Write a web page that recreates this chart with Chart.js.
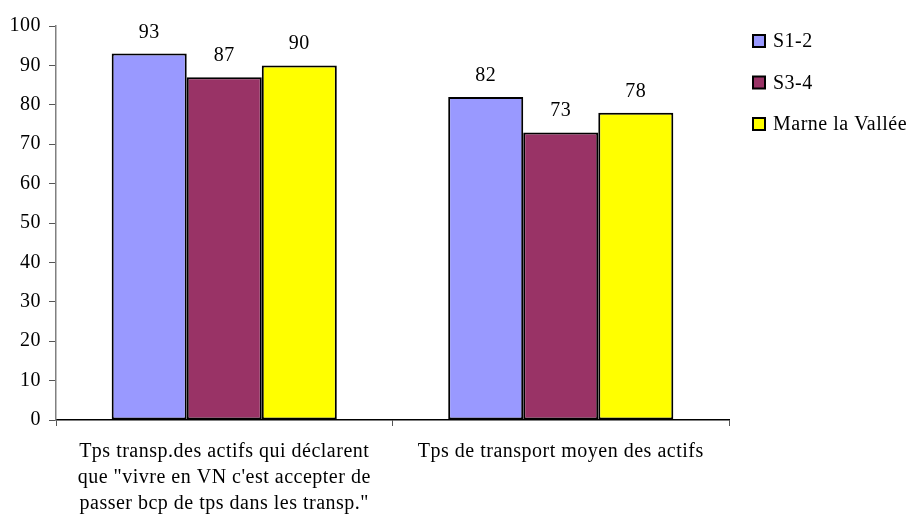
<!DOCTYPE html>
<html>
<head>
<meta charset="utf-8">
<script src="https://cdn.jsdelivr.net/npm/chart.js@4"></script>
<style>
  html, body { margin: 0; padding: 0; background: #fff; }
  #wrap { width: 910px; height: 525px; }
</style>
</head>
<body>
<div id="wrap"><canvas id="chart" width="910" height="525"></canvas></div>
<script>
const categories = [
  ["Tps transp.des actifs qui déclarent", "que \"vivre en VN c'est accepter de", "passer bcp de tps dans les transp.\""],
  "Tps de transport moyen des actifs"
];
const seriesNames = ["S1-2", "S3-4", "Marne la Vallée"];
const s12 = [93, 82];
const s34 = [87, 73];
const marne = [90, 78];
const colors = ["#9999FF", "#993366", "#FFFF00"];

const FONT = "'Liberation Serif', 'Times New Roman', serif";
const SIZE = 20;

// Garamond in the original is a little wider than Times
const spacing = {
  id: "spacing",
  beforeLayout(chart) { chart.ctx.letterSpacing = "0.5px"; },
  beforeDraw(chart) { chart.ctx.letterSpacing = "0.5px"; }
};

// values above each bar
const valueLabels = {
  id: "valueLabels",
  afterDatasetsDraw(chart) {
    const ctx = chart.ctx;
    ctx.save();
    ctx.font = SIZE + "px " + FONT;
    ctx.fillStyle = "#000";
    ctx.textAlign = "center";
    ctx.textBaseline = "alphabetic";
    chart.data.datasets.forEach((ds, i) => {
      chart.getDatasetMeta(i).data.forEach((bar, j) => {
        ctx.fillText(ds.data[j], bar.x, bar.y - 16);
      });
    });
    ctx.restore();
  }
};

// legend on the right, drawn by hand
const sideLegend = {
  id: "sideLegend",
  afterDraw(chart) {
    const ctx = chart.ctx;
    ctx.save();
    ctx.font = SIZE + "px " + FONT;
    ctx.textBaseline = "middle";
    chart.data.datasets.forEach((ds, i) => {
      const y = 41 + i * 41.5;
      ctx.fillStyle = ds.backgroundColor;
      ctx.fillRect(753, y - 6, 12, 12);
      ctx.strokeStyle = "#000";
      ctx.lineWidth = 2;
      ctx.strokeRect(753, y - 6, 12, 12);
      ctx.fillStyle = "#000";
      ctx.fillText(ds.label, 773, y + 1);
    });
    ctx.restore();
  }
};

new Chart(document.getElementById("chart"), {
  type: "bar",
  data: {
    labels: categories,
    datasets: [
      { label: seriesNames[0], data: s12, backgroundColor: colors[0] },
      { label: seriesNames[1], data: s34, backgroundColor: colors[1] },
      { label: seriesNames[2], data: marne, backgroundColor: colors[2] }
    ].map(d => Object.assign(d, { borderColor: "#000", borderWidth: 2, borderSkipped: false }))
  },
  options: {
    responsive: false,
    animation: false,
    devicePixelRatio: 1,
    layout: { padding: { left: 0, right: 181, top: 26, bottom: 0 } },
    datasets: { bar: { categoryPercentage: 0.669, barPercentage: 1 } },
    plugins: { legend: { display: false }, tooltip: { enabled: false } },
    scales: {
      x: {
        grid: { display: true, drawOnChartArea: false, drawTicks: true, tickLength: 6, tickColor: "#555", offset: true },
        border: { color: "#000", width: 1.5 },
        ticks: { color: "#000", font: { family: FONT, size: SIZE, lineHeight: 1.3 }, padding: 13, maxRotation: 0, autoSkip: false },
        afterFit(scale) { scale.height = 105; }
      },
      y: {
        min: 0, max: 100,
        grid: { display: true, drawOnChartArea: false, drawTicks: true, tickLength: 7, tickColor: "#555" },
        border: { color: "#808080", width: 1.5 },
        ticks: { stepSize: 10, color: "#000", font: { family: FONT, size: SIZE }, padding: 8 },
        afterFit(scale) { scale.width = 56; }
      }
    }
  },
  plugins: [spacing, valueLabels, sideLegend]
});
</script>
</body>
</html>
